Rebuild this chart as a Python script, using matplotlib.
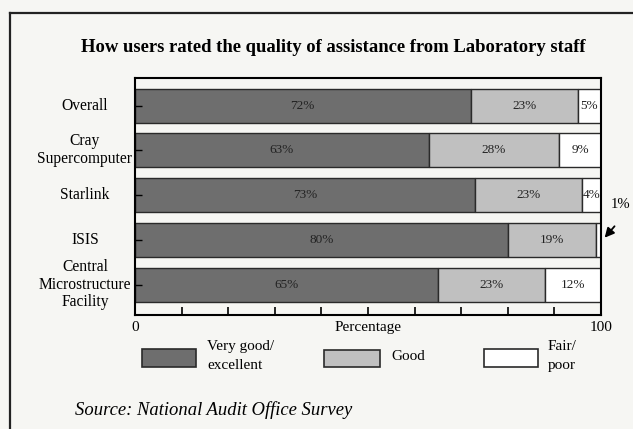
import numpy as np
import matplotlib.pyplot as plt
from matplotlib.patches import Rectangle
from matplotlib.lines import Line2D
import matplotlib.transforms as mtransforms

plt.rcParams['font.family'] = ['Liberation Serif', 'DejaVu Serif']

facilities = ["Overall", "Cray\nSupercomputer", "Starlink", "ISIS",
              "Central\nMicrostructure\nFacility"]
very_good = np.array([72, 63, 73, 80, 65])
good = np.array([23, 28, 23, 19, 23])
fair = np.array([5, 9, 4, 1, 12])

series_names = ["Very good/\nexcellent", "Good", "Fair/\npoor"]
colors = ["#6e6e6e", "#c0c0c0", "#ffffff"]
paper = "#f6f6f3"

fig = plt.figure(figsize=(6.33, 4.29), dpi=100, facecolor=paper)
ax = fig.add_axes([0.2133, 0.2657, 0.7361, 0.5524], facecolor=paper)

y = np.arange(len(facilities))
h = 0.76
left = np.zeros(len(facilities))
for vals, col in zip([very_good, good, fair], colors):
    bars = ax.barh(y, vals, left=left, height=h, color=col,
                   edgecolor="#2a2a2a", linewidth=1.0)
    for i, v in enumerate(vals):
        if v < 3:
            continue
        xc = left[i] + v / 2
        ax.text(xc, y[i], f"{v}%", ha="center", va="center", fontsize=9.5,
                color="#222222")
    left = left + vals

ax.set_xlim(0, 100)
ax.set_ylim(len(facilities) - 1 + 0.68, -0.615)

ax.set_xticks(np.arange(0, 101, 10))
ax.set_xticklabels(["0", "", "", "", "", "Percentage", "", "", "", "", "100"])
ax.tick_params(axis="x", direction="in", length=6, width=1.2, pad=4,
               labelsize=11)
ax.set_yticks(y)
ax.set_yticklabels([])
ax.tick_params(axis="y", direction="in", length=5, width=1.0)
for s in ax.spines.values():
    s.set_linewidth(1.5)

# category labels, centred left of the axes
trans = mtransforms.blended_transform_factory(fig.transFigure, ax.transData)
for yi, name in zip(y, facilities):
    ax.text(0.134, yi, name, transform=trans, ha="center", va="center",
            fontsize=11.2, linespacing=1.15)

# 1% annotation for ISIS
ax.annotate("", xy=(100.4, 3.0), xytext=(103.3, 2.65),
            arrowprops=dict(arrowstyle="-|>", color="black", lw=1.3,
                            mutation_scale=14),
            annotation_clip=False)
ax.text(104.3, 2.22, "1%", ha="center", va="center", fontsize=10.5,
        clip_on=False)

fig.text(0.527, 0.89, "How users rated the quality of assistance from Laboratory staff",
         ha="center", va="center", fontsize=13.4, fontweight="bold")

# legend
W, H = 633.0, 429.0
boxes = [(142, 349, 54, 18), (324, 350, 56, 17), (484, 349, 54, 18)]
text_x = [207, 391, 548]
for (bx, by, bw, bh), col, name, tx in zip(boxes, colors, series_names, text_x):
    fig.patches.append(Rectangle((bx / W, 1 - (by + bh) / H), bw / W, bh / H,
                                 transform=fig.transFigure, facecolor=col,
                                 edgecolor="#2a2a2a", linewidth=1.2))
    fig.text(tx / W, 1 - 356 / H, name, ha="left", va="center", fontsize=11,
             linespacing=1.6)

fig.text(75 / W, 1 - 410 / H, "Source: National Audit Office Survey",
         ha="left", va="center", fontsize=13.4, style="italic")

# outer frame (top and left edge of the page box)
fig.lines.append(Line2D([10 / W, 1.0], [1 - 13 / H, 1 - 13 / H],
                        transform=fig.transFigure, color="#222222", lw=1.6))
fig.lines.append(Line2D([10 / W, 10 / W], [1 - 13 / H, 0.0],
                        transform=fig.transFigure, color="#222222", lw=1.6))

fig.savefig("out.png", dpi=100, facecolor=paper)
